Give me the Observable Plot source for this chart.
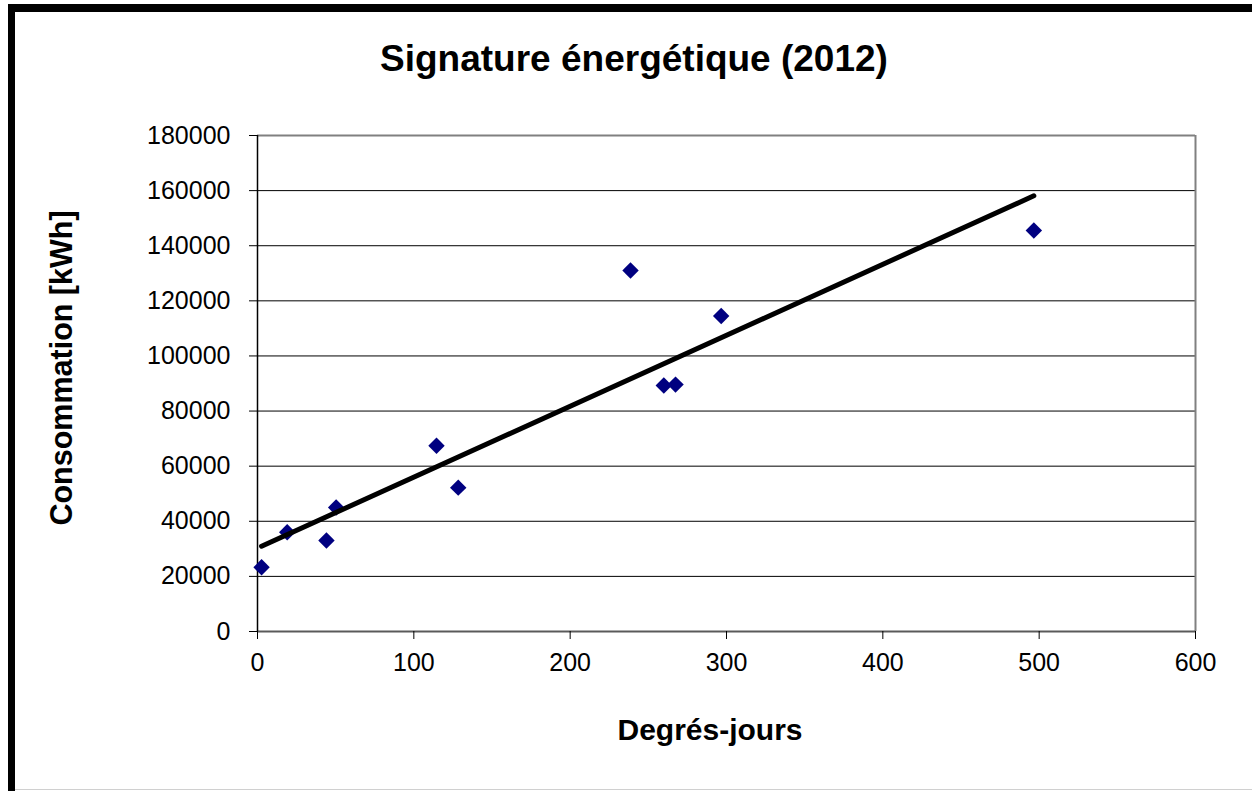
<!DOCTYPE html>
<html>
<head>
<meta charset="utf-8">
<script src="https://cdn.jsdelivr.net/npm/d3@7"></script>
<script src="https://cdn.jsdelivr.net/npm/@observablehq/plot@0.6"></script>
<style>
  html, body { margin: 0; padding: 0; background: #fff; overflow: hidden; }
  #wrap { position: relative; width: 1252px; height: 791px; overflow: hidden; font-family: "Liberation Sans", Arial, sans-serif; }
  #frame { position: absolute; left: 8px; top: 4px; width: 1300px; height: 900px; border-left: 7px solid #000; border-top: 8px solid #000; box-sizing: border-box; }
  #bottomline { position: absolute; left: 15px; top: 789px; width: 1237px; height: 1px; background: #d0d0d0; }
  .lbl { position: absolute; font-weight: bold; color: #000; white-space: nowrap; transform: translate(-50%, -50%); }
  #title { left: 634px; top: 58px; font-size: 37px; line-height: 37px; }
  #xlabel { left: 710px; top: 730px; font-size: 30px; line-height: 30px; }
  #ylabel { left: 61px; top: 368px; font-size: 30.5px; line-height: 30px; transform: translate(-50%, -50%) rotate(-90deg); }
  #chart { position: absolute; left: 0; top: 0; }
</style>
</head>
<body>
<div id="wrap">
  <div id="frame"></div>
  <div id="bottomline"></div>
  <div id="chart"></div>
  <div id="title" class="lbl">Signature énergétique (2012)</div>
  <div id="xlabel" class="lbl">Degrés-jours</div>
  <div id="ylabel" class="lbl">Consommation [kWh]</div>
</div>
<script>
// Data
const degresJours = [2.6, 19, 44.1, 50.3, 114.5, 128.4, 238.6, 259.9, 267.4, 296.6, 496.6];
const consommation = [23300, 36000, 33000, 45000, 67400, 52200, 131000, 89300, 89600, 114500, 145500];
const xTicks = [0, 100, 200, 300, 400, 500, 600];
const yTicks = [0, 20000, 40000, 60000, 80000, 100000, 120000, 140000, 160000, 180000];

const data = degresJours.map((x, i) => ({x, y: consommation[i]}));
const fmt = d => String(d);

const chart = Plot.plot({
  width: 1252,
  height: 791,
  marginLeft: 257,
  marginRight: 57,
  marginTop: 135,
  marginBottom: 160,
  style: { fontFamily: "'Liberation Sans', Arial, sans-serif", fontSize: "25px", color: "#000", background: "transparent", overflow: "visible" },
  x: { domain: [0, 600] },
  y: { domain: [0, 180000] },
  marks: [
    Plot.ruleY(yTicks.filter(d => d > 0 && d < 180000), { stroke: "#000", strokeWidth: 1 }),
    Plot.ruleY([180000], { stroke: "#808080", strokeWidth: 2 }),
    Plot.ruleX([600], { stroke: "#808080", strokeWidth: 2 }),
    Plot.ruleY([0], { stroke: "#5a5a5a", strokeWidth: 2 }),
    Plot.ruleX([0], { stroke: "#000", strokeWidth: 1.5 }),
    Plot.axisX({ ticks: xTicks, tickFormat: fmt, tickSize: 8, tickPadding: 14, label: null, stroke: "#000" }),
    Plot.axisY({ ticks: yTicks, tickFormat: fmt, tickSize: 8, tickPadding: 19, label: null, stroke: "#000" }),
    Plot.dot(data, { x: "x", y: "y", symbol: "diamond2", r: 7.4, fill: "#000080", stroke: null }),
    Plot.linearRegressionY(data, { x: "x", y: "y", ci: 0, stroke: "#000", strokeWidth: 5, strokeLinecap: "round" })
  ]
});
document.getElementById("chart").appendChild(chart);
</script>
</body>
</html>
